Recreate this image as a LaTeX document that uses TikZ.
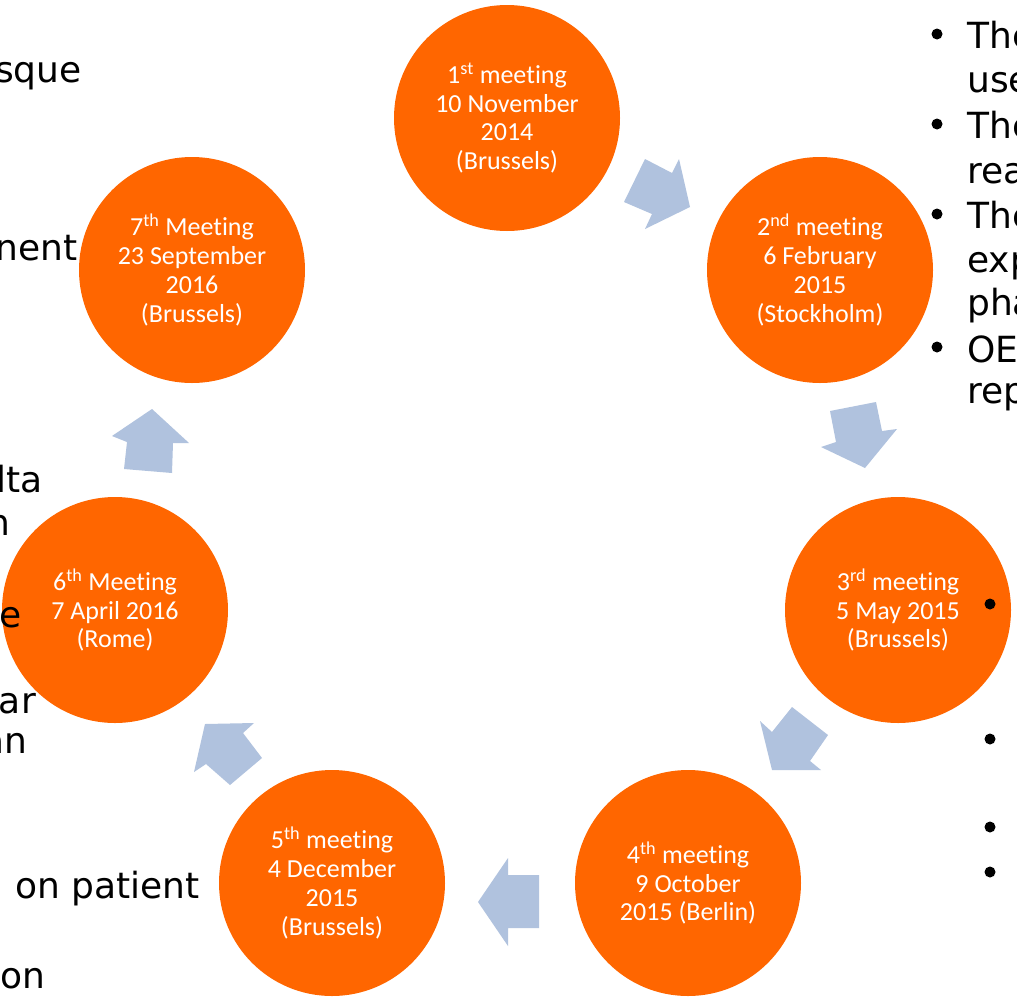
\documentclass[tikz,border=0pt]{standalone}
\usepackage{fontspec}
\setmainfont{Carlito}[Ligatures=NoCommon]
\newfontfamily\bgfont{DejaVu Sans}
\definecolor{meetorange}{HTML}{FF6600}
\definecolor{arrowblue}{HTML}{B0C2DE}
\begin{document}
\begin{tikzpicture}[x=1pt,y=-1pt,
  meet/.style={circle, fill=meetorange, text=white, minimum size=226pt, inner sep=0pt, align=center, font=\fontsize{26}{28.7}\selectfont},
  blockarrow/.style={fill=arrowblue, draw=none},
  bg/.style={font=\bgfont\fontsize{36}{43}\selectfont, text=black, inner sep=0pt},
  dot/.style={fill=black, draw=none}
]
\useasboundingbox (0,0) rectangle (1017,1002);
\fill[white] (0,0) rectangle (1017,1002);

% meeting circles
\node[meet] (m1) at (507,118) {1\textsuperscript{st} meeting\\10 November\\2014\\(Brussels)};
\node[meet] (m2) at (820,270) {2\textsuperscript{nd} meeting\\6 February\\2015\\(Stockholm)};
\node[meet] (m3) at (898,610) {3\textsuperscript{rd} meeting\\5 May 2015\\(Brussels)};
\node[meet] (m4) at (688,883) {4\textsuperscript{th} meeting\\9 October\\2015 (Berlin)};
\node[meet] (m5) at (332,883) {5\textsuperscript{th} meeting\\4 December\\2015\\(Brussels)};
\node[meet] (m6) at (115,610) {6\textsuperscript{th} Meeting\\7 April 2016\\(Rome)};
\node[meet] (m7) at (192,270) {7\textsuperscript{th} Meeting\\23 September\\2016\\(Brussels)};

% block arrows
\fill[blockarrow] (645,159) -- (672,173) -- (679,159) -- (690,207) -- (645,229) -- (652,214) -- (624,202) -- cycle;
\fill[blockarrow] (830,411) -- (876,402) -- (882,431) -- (897,429) -- (865,468) -- (821,447) -- (836,442) -- cycle;
\fill[blockarrow] (792,707) -- (828,735) -- (810,761) -- (821,770) -- (772,770) -- (760,721) -- (772,732) -- cycle;
\fill[blockarrow] (539,875) -- (508,875) -- (508,858) -- (478,902) -- (508,946) -- (508,928) -- (539,928) -- cycle;
\fill[blockarrow] (205,724) -- (254,723) -- (243,733) -- (262,758) -- (230,785) -- (206,764) -- (194,772) -- cycle;
\fill[blockarrow] (152,409) -- (189,443) -- (173,443) -- (172,473) -- (124,469) -- (127,442) -- (112,436) -- cycle;

% left background text (cut off)
\node[bg, anchor=base east] (l1) at (82,82) {sque};
\node[bg, anchor=base east] (l2) at (78,260) {nent};
\node[bg, anchor=base east] (l3) at (43,492) {lta};
\node[bg, anchor=base east] (l4) at (11,535) {n};
\node[bg, anchor=base east] (l5) at (22,627) {e};
\node[bg, anchor=base east] (l6) at (36,713) {ar};
\node[bg, anchor=base east] (l7) at (28,753) {an};
\node[bg, anchor=base east] (l8) at (200,898) {on patient};
\node[bg, anchor=base east] (l9) at (46,988) {on};

% right background text (cut off)
\node[bg, anchor=base west] (r1) at (967,48) {The};
\node[bg, anchor=base west] (r2) at (967,92) {use};
\node[bg, anchor=base west] (r3) at (967,138) {The};
\node[bg, anchor=base west] (r4) at (967,183) {rea};
\node[bg, anchor=base west] (r5) at (967,228) {The};
\node[bg, anchor=base west] (r6) at (967,272) {exp};
\node[bg, anchor=base west] (r7) at (967,315) {pha};
\node[bg, anchor=base west] (r8) at (967,362) {OE};
\node[bg, anchor=base west] (r9) at (967,403) {rep};

% bullets
\fill[dot] (937,34) circle (5.5pt);
\fill[dot] (937,124) circle (5.5pt);
\fill[dot] (937,214) circle (5.5pt);
\fill[dot] (937,347) circle (5.5pt);
\fill[dot] (990,604) circle (5.5pt);
\fill[dot] (990,739) circle (5.5pt);
\fill[dot] (990,827) circle (5.5pt);
\fill[dot] (990,872) circle (5.5pt);
\end{tikzpicture}
\end{document}
